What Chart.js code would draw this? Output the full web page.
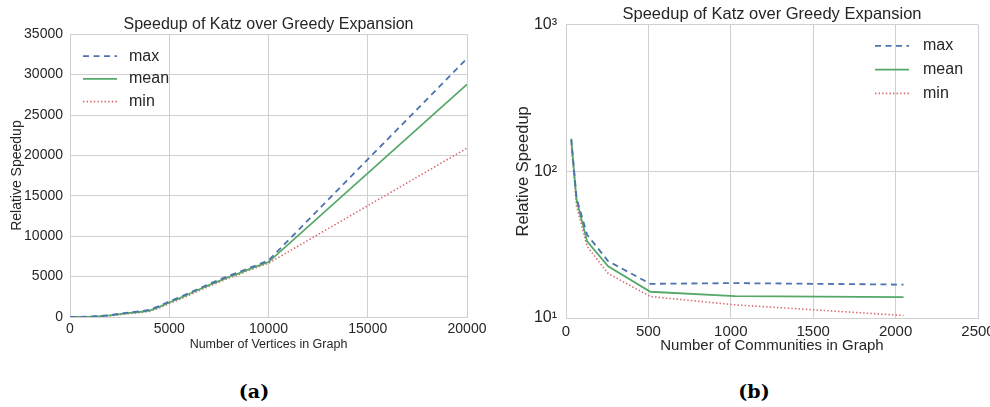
<!DOCTYPE html>
<html>
<head>
<meta charset="utf-8">
<script src="https://cdn.jsdelivr.net/npm/chart.js@4/dist/chart.umd.min.js"></script>
<style>
  body { margin: 0; background: #fff; }
  #wrap { position: relative; width: 990px; height: 407px; overflow: hidden; }
  canvas { position: absolute; top: 0; }
  #chartA { left: 0; }
  #chartB { left: 495px; }
  .sub {
    position: absolute; top: 380px; width: 60px; text-align: center;
    font: bold 19px "DejaVu Serif", "Liberation Serif", serif; color: #000;
  }
</style>
</head>
<body>
<div id="wrap">
  <canvas id="chartA" width="495" height="360"></canvas>
  <canvas id="chartB" width="495" height="360"></canvas>
  <div class="sub" style="left:224px">(a)</div>
  <div class="sub" style="left:724px">(b)</div>
</div>
<script>
// ---- data, panel (a): speedup vs. number of vertices ----
const vertices = [0, 500, 1000, 1500, 2000, 2500, 3000, 3500, 4000, 4500, 5000,
  5500, 6000, 6500, 7000, 7500, 8000, 8500, 9000, 9500, 10000, 20000];
const maxA = [0, 15, 50, 120, 230, 400, 560, 700, 880, 1380, 1920,
  2420, 2980, 3520, 4080, 4580, 5100, 5550, 6050, 6500, 7000, 32000];
const meanA = [0, 10, 40, 100, 200, 350, 500, 620, 800, 1250, 1800,
  2300, 2850, 3400, 3950, 4450, 4950, 5400, 5900, 6350, 6800, 28800];
const minA = [0, 5, 25, 70, 150, 280, 420, 540, 700, 1120, 1650,
  2150, 2700, 3250, 3800, 4300, 4800, 5250, 5750, 6200, 6650, 20900];

// ---- data, panel (b): speedup vs. number of communities (log y) ----
const communities = [32, 64, 128, 256, 512, 1024, 2048];
const maxB = [167, 66, 37, 24.4, 17.1, 17.3, 16.9];
const meanB = [164, 64, 33.3, 22.5, 15.1, 14.1, 13.9];
const minB = [153, 58, 30.8, 20.1, 14.0, 12.3, 10.4];

const logTicks = [10, 100, 1000];
const logTickLabels = ['10\u00B9', '10\u00B2', '10\u00B3'];

const seriesNames = ['max', 'mean', 'min'];
const titleText = 'Speedup of Katz over Greedy Expansion';

const FONT = '"Liberation Sans", Arial, sans-serif';
const INK = '#262626';
const GRID = '#d0d0d0';
const styles = [
  { borderColor: '#4C72B0', borderDash: [6, 4.5], borderWidth: 1.8 },
  { borderColor: '#55A868', borderDash: [], borderWidth: 1.8 },
  { borderColor: '#D9686C', borderDash: [1.4, 2.2], borderWidth: 1.6 }
];

function makeSets(xs, cols) {
  return cols.map((ys, k) => Object.assign({
    label: seriesNames[k],
    data: xs.map((x, i) => ({ x: x, y: ys[i] })),
    pointRadius: 0,
    fill: false,
    tension: 0
  }, styles[k]));
}

// legend drawn inside the plot area, like the matplotlib original
const insideLegend = {
  id: 'insideLegend',
  afterDraw(chart, args, opts) {
    const { ctx, chartArea } = chart;
    const x0 = opts.anchor === 'right' ? chartArea.right - opts.x : chartArea.left + opts.x;
    ctx.save();
    ctx.font = '16px ' + FONT;
    ctx.textBaseline = 'middle';
    chart.data.datasets.forEach((ds, i) => {
      const y = chartArea.top + opts.y + i * opts.spacing;
      ctx.beginPath();
      ctx.strokeStyle = ds.borderColor;
      ctx.lineWidth = ds.borderWidth;
      ctx.setLineDash(ds.borderDash);
      ctx.moveTo(x0, y);
      ctx.lineTo(x0 + opts.lineLen, y);
      ctx.stroke();
      ctx.setLineDash([]);
      ctx.fillStyle = INK;
      ctx.fillText(ds.label, x0 + opts.lineLen + opts.gap, y);
    });
    ctx.restore();
  }
};

function gridOpts() {
  return { color: GRID, lineWidth: 1, drawTicks: false };
}

// plain numbers, no thousands separator
const plain = v => String(v);

// panel (a)
new Chart(document.getElementById('chartA'), {
  type: 'line',
  data: { datasets: makeSets(vertices, [maxA, meanA, minA]) },
  plugins: [insideLegend],
  options: {
    responsive: false,
    animation: false,
    devicePixelRatio: 1,
    layout: { padding: { left: 0, right: 28, top: 0, bottom: 0 } },
    plugins: {
      legend: { display: false },
      tooltip: { enabled: false },
      title: {
        display: true, text: titleText, color: INK, fullSize: false,
        font: { family: FONT, size: 16, weight: 'normal' },
        padding: { top: 15, bottom: 0 }
      },
      insideLegend: { anchor: 'left', x: 13, y: 22, spacing: 22.7, lineLen: 34, gap: 12 }
    },
    scales: {
      x: {
        type: 'linear', min: 0, max: 20000,
        ticks: { stepSize: 5000, color: INK, padding: 4, font: { family: FONT, size: 14 },
                 maxRotation: 0, callback: plain },
        grid: gridOpts(),
        border: { color: GRID },
        title: { display: true, text: 'Number of Vertices in Graph', color: INK,
                 font: { family: FONT, size: 12.5 }, padding: { top: 0, bottom: 7.5 } },
        afterFit(s) { s.height = 43; s.paddingLeft = 0; s.paddingRight = 0; }
      },
      y: {
        type: 'linear', min: 0, max: 35000,
        ticks: { stepSize: 5000, color: INK, padding: 7, font: { family: FONT, size: 14 },
                 callback: plain },
        grid: gridOpts(),
        border: { color: GRID },
        title: { display: true, text: 'Relative Speedup', color: INK,
                 font: { family: FONT, size: 14 }, padding: { top: 9, bottom: 0 } },
        afterFit(s) { s.width = 70; s.paddingTop = 0; s.paddingBottom = 0; }
      }
    }
  }
});

// panel (b)
new Chart(document.getElementById('chartB'), {
  type: 'line',
  data: { datasets: makeSets(communities, [maxB, meanB, minB]) },
  plugins: [insideLegend],
  options: {
    responsive: false,
    animation: false,
    devicePixelRatio: 1,
    layout: { padding: { left: 0, right: 12, top: 0, bottom: 0 } },
    plugins: {
      legend: { display: false },
      tooltip: { enabled: false },
      title: {
        display: true, text: titleText, color: INK, fullSize: false,
        font: { family: FONT, size: 16.5, weight: 'normal' },
        padding: { top: 5, bottom: 0 }
      },
      insideLegend: { anchor: 'right', x: 103, y: 21, spacing: 23.8, lineLen: 34, gap: 14 }
    },
    scales: {
      x: {
        type: 'linear', min: 0, max: 2500,
        ticks: { stepSize: 500, color: INK, padding: 5, font: { family: FONT, size: 15 },
                 maxRotation: 0, callback: plain },
        grid: gridOpts(),
        border: { color: GRID },
        title: { display: true, text: 'Number of Communities in Graph', color: INK,
                 font: { family: FONT, size: 15 }, padding: { top: 0, bottom: 5.3 } },
        afterFit(s) { s.height = 42; s.paddingLeft = 0; s.paddingRight = 0; }
      },
      y: {
        type: 'logarithmic', min: 10, max: 1000,
        afterBuildTicks(s) { s.ticks = logTicks.map(v => ({ value: v })); },
        ticks: {
          color: INK, padding: 9, font: { family: FONT, size: 16 },
          callback: v => logTickLabels[logTicks.indexOf(v)]
        },
        grid: gridOpts(),
        border: { color: GRID },
        title: { display: true, text: 'Relative Speedup', color: INK,
                 font: { family: FONT, size: 16.5 }, padding: { top: 19, bottom: 0 } },
        afterFit(s) { s.width = 71; s.paddingTop = 0; s.paddingBottom = 0; }
      }
    }
  }
});
</script>
</body>
</html>
